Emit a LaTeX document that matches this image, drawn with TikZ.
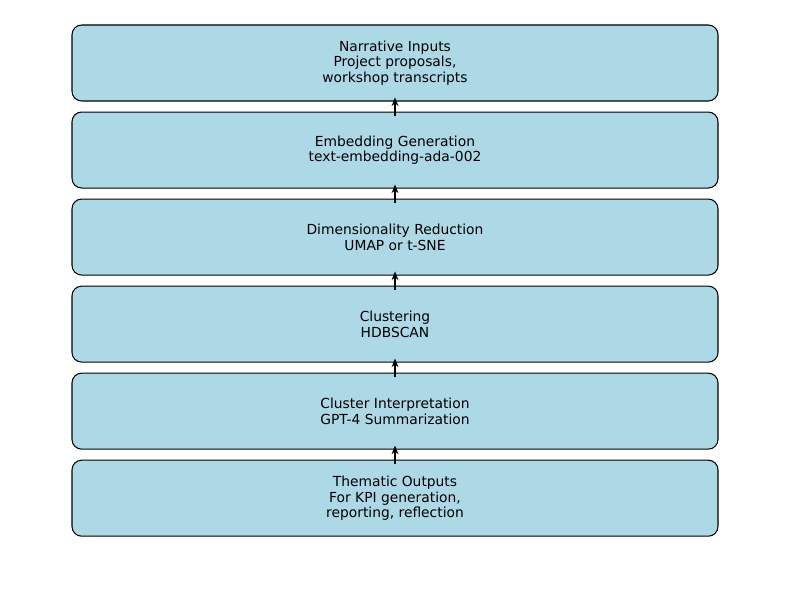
\documentclass[tikz,border=0pt]{standalone}
\usepackage{fontspec}
\setmainfont{DejaVu Sans}
\usetikzlibrary{positioning,arrows.meta}
\definecolor{boxblue}{RGB}{173, 216, 230}

\begin{document}
\begin{tikzpicture}[node distance=0.1in, >=Stealth,
		stage/.style={draw=black, fill=boxblue, rounded corners=7pt, line width=0.75pt, minimum width=6.46in, minimum height=0.76in, align=center, inner sep=0pt, font=\fontsize{10}{11.3}\selectfont},
		flowLine/.style={line width=1.1pt, ->, shorten >=-3pt, shorten <=-3pt, >={Stealth[length=2.2mm,width=1.7mm]}},
		]
		
		\useasboundingbox (0,0) rectangle (7.9in,5.9in);
		
		\node[stage] (s1) at (3.95in,5.27in) {Narrative Inputs\\Project proposals,\\workshop transcripts};
		\node[stage, below= of s1] (s2) {Embedding Generation\\text-embedding-ada-002};
		\node[stage, below= of s2] (s3) {Dimensionality Reduction\\UMAP or t-SNE};
		\node[stage, below= of s3] (s4) {Clustering\\HDBSCAN};
		\node[stage, below= of s4] (s5) {Cluster Interpretation\\GPT-4 Summarization};
		\node[stage, below= of s5] (s6) {Thematic Outputs\\For KPI generation,\\reporting, reflection};
		
		\draw [flowLine] (s2) to (s1);
		\draw [flowLine] (s3) to (s2);
		\draw [flowLine] (s4) to (s3);
		\draw [flowLine] (s5) to (s4);
		\draw [flowLine] (s6) to (s5);
		
\end{tikzpicture}
\end{document}
